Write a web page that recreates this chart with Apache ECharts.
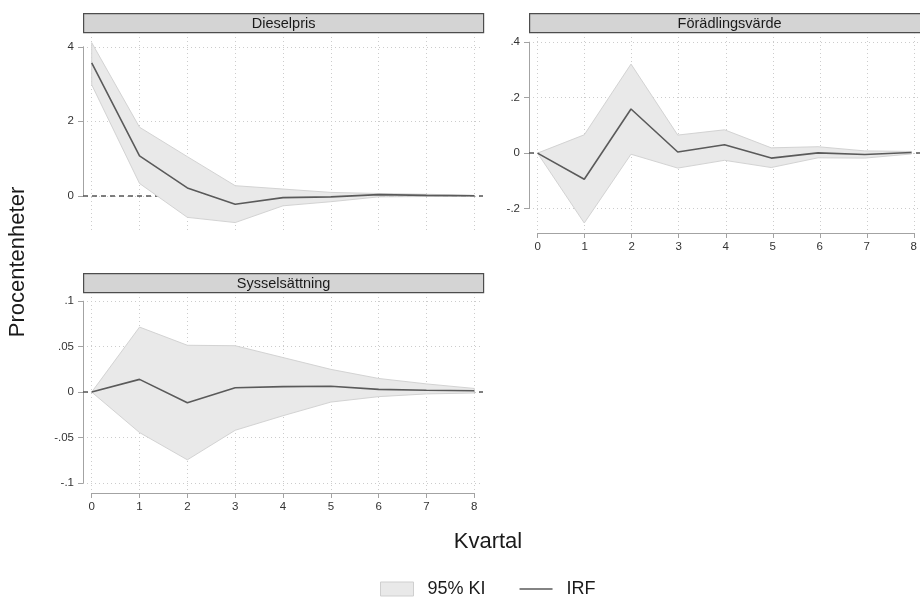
<!DOCTYPE html>
<html>
<head>
<meta charset="utf-8">
<script src="https://cdn.jsdelivr.net/npm/echarts@6/dist/echarts.min.js"></script>
<style>
  html, body { margin: 0; padding: 0; background: #ffffff; }
  #chart { width: 920px; height: 598px; }
</style>
</head>
<body>
<div id="chart"></div>
<script>
// ---------- Data ----------
const quarters = [0, 1, 2, 3, 4, 5, 6, 7, 8];

const dieselIRF   = [3.57, 1.07, 0.21, -0.23, -0.05, -0.03, 0.03, 0.01, 0.00];
const dieselUpper = [4.11, 1.84, 1.05, 0.27, 0.18, 0.09, 0.06, 0.04, 0.01];
const dieselLower = [2.98, 0.33, -0.58, -0.72, -0.27, -0.16, -0.03, -0.02, -0.01];

const foradlIRF   = [0, -0.094, 0.159, 0.004, 0.030, -0.018, 0.001, -0.005, 0.002];
const foradlUpper = [0, 0.066, 0.321, 0.065, 0.084, 0.019, 0.023, 0.008, 0.006];
const foradlLower = [0, -0.252, -0.004, -0.054, -0.026, -0.052, -0.017, -0.018, -0.003];

const syssIRF   = [0, 0.014, -0.0117, 0.0047, 0.006, 0.0065, 0.003, 0.002, 0.0015];
const syssUpper = [0, 0.0715, 0.0515, 0.051, 0.038, 0.025, 0.015, 0.009, 0.004];
const syssLower = [0, -0.0445, -0.0745, -0.042, -0.026, -0.011, -0.005, -0.002, -0.001];

const panelTitles = ['Dieselpris', 'Förädlingsvärde', 'Sysselsättning'];

const xTicks = [0, 1, 2, 3, 4, 5, 6, 7, 8];
const xTickLabels = ['0', '1', '2', '3', '4', '5', '6', '7', '8'];

const dieselTicks = [0, 2, 4];
const dieselTickLabels = ['0', '2', '4'];
const foradlTicks = [-0.2, 0, 0.2, 0.4];
const foradlTickLabels = ['-.2', '0', '.2', '.4'];
const syssTicks = [-0.1, -0.05, 0, 0.05, 0.1];
const syssTickLabels = ['-.1', '-.05', '0', '.05', '.1'];

const legendNames = ['95% KI', 'IRF'];
const xTitle = 'Kvartal';
const yTitle = 'Procentenheter';

// ---------- Layout / style ----------
const FONT = '"Liberation Sans", Arial, Helvetica, sans-serif';
const PW = 400, PH = 200;           // plot region size
const XMIN = -0.182, XMAX = 8.182;  // plot region x range

const panels = [
  { title: panelTitles[0], irf: dieselIRF, up: dieselUpper, lo: dieselLower,
    ticks: dieselTicks, labels: dieselTickLabels,
    left: 83, top: 33, ymin: -1.0, ymax: 4.37, interval: 2, showX: false },
  { title: panelTitles[1], irf: foradlIRF, up: foradlUpper, lo: foradlLower,
    ticks: foradlTicks, labels: foradlTickLabels,
    left: 529, top: 33, ymin: -0.288, ymax: 0.433, interval: 0.2, showX: true },
  { title: panelTitles[2], irf: syssIRF, up: syssUpper, lo: syssLower,
    ticks: syssTicks, labels: syssTickLabels,
    left: 83, top: 293, ymin: -0.111, ymax: 0.109, interval: 0.05, showX: true }
];

const grids = [], xAxes = [], yAxes = [], series = [], graphics = [];

const axisGray = '#a3a3a3';
const labelColor = '#333333';
const gridLine = { show: true, lineStyle: { color: '#cccccc', type: [1, 3], width: 1 } };

function labelFor(ticks, labels) {
  return function (v) {
    for (let i = 0; i < ticks.length; i++) {
      if (Math.abs(ticks[i] - v) < 1e-9) return labels[i];
    }
    return '';
  };
}

panels.forEach(function (p) {
  const yPix = function (v) { return p.top + (p.ymax - v) / (p.ymax - p.ymin) * PH; };
  const xPix = function (v) { return p.left + (v - XMIN) / (XMAX - XMIN) * PW; };
  const tMin = p.ticks[0], tMax = p.ticks[p.ticks.length - 1];
  const x0 = xTicks[0], x1 = xTicks[xTicks.length - 1];

  // Data grid
  const gData = grids.length;
  grids.push({ left: p.left, top: p.top, width: PW, height: PH, containLabel: false });
  xAxes.push({ gridIndex: gData, type: 'value', min: XMIN, max: XMAX, show: false });
  yAxes.push({ gridIndex: gData, type: 'value', min: p.ymin, max: p.ymax, show: false });
  const xi = xAxes.length - 1, yi = yAxes.length - 1;

  // Y tick grid (axis line only spans tick range)
  const gY = grids.length;
  grids.push({ left: p.left, top: yPix(tMax), width: PW, height: yPix(tMin) - yPix(tMax), containLabel: false });
  xAxes.push({ gridIndex: gY, type: 'value', min: 0, max: 1, show: false });
  yAxes.push({
    gridIndex: gY, type: 'value', min: tMin, max: tMax, interval: p.interval,
    axisLine: { show: true, lineStyle: { color: axisGray, width: 1 } },
    axisTick: { show: true, length: 5, lineStyle: { color: axisGray } },
    axisLabel: { show: true, margin: 9, fontSize: 11.5, color: labelColor, fontFamily: FONT,
                 formatter: labelFor(p.ticks, p.labels) },
    splitLine: gridLine
  });

  // X tick grid
  const gX = grids.length;
  grids.push({ left: xPix(x0), top: p.top, width: xPix(x1) - xPix(x0), height: PH, containLabel: false });
  xAxes.push({
    gridIndex: gX, type: 'value', min: x0, max: x1, interval: 1, position: 'bottom',
    axisLine: { show: p.showX, onZero: false, lineStyle: { color: axisGray, width: 1 } },
    axisTick: { show: p.showX, length: 5, lineStyle: { color: axisGray } },
    axisLabel: { show: p.showX, margin: 8, fontSize: 11.5, color: labelColor, fontFamily: FONT,
                 formatter: labelFor(xTicks, xTickLabels) },
    splitLine: gridLine
  });
  yAxes.push({ gridIndex: gX, type: 'value', min: 0, max: 1, show: false });

  // zero reference line (beneath the band)
  series.push({
    type: 'line', xAxisIndex: xi, yAxisIndex: yi, data: [], z: 1, silent: true,
    markLine: {
      z: 1, silent: true, symbol: 'none', label: { show: false },
      lineStyle: { color: '#555555', type: [5, 4], width: 1.5 },
      data: [{ yAxis: 0 }]
    }
  });

  // confidence band
  const up = p.up, lo = p.lo;
  series.push({
    type: 'custom', name: legendNames[0], xAxisIndex: xi, yAxisIndex: yi, z: 3,
    itemStyle: { color: '#e9e9e9', borderColor: '#cfcfcf', borderWidth: 1 },
    data: [[quarters[0], up[0]]],
    renderItem: function (params, api) {
      const pts = [];
      for (let i = 0; i < quarters.length; i++) pts.push(api.coord([quarters[i], up[i]]));
      for (let i = quarters.length - 1; i >= 0; i--) pts.push(api.coord([quarters[i], lo[i]]));
      return { type: 'polygon', shape: { points: pts },
               style: { fill: '#e9e9e9', stroke: '#d3d3d3', lineWidth: 1 } };
    }
  });

  // IRF line
  series.push({
    type: 'line', name: legendNames[1], xAxisIndex: xi, yAxisIndex: yi, z: 4,
    data: quarters.map(function (q, i) { return [q, p.irf[i]]; }),
    symbol: 'none', showSymbol: false,
    lineStyle: { color: '#5a5a5a', width: 1.6 },
    itemStyle: { color: '#5a5a5a' }
  });

  // panel header
  graphics.push({
    type: 'group', left: p.left, top: p.top - 20,
    children: [
      { type: 'rect', shape: { x: 0, y: 0, width: PW, height: 19 },
        style: { fill: '#d4d4d4', stroke: '#4d4d4d', lineWidth: 1.2 } },
      { type: 'text', x: PW / 2, y: 10,
        style: { text: p.title, fontSize: 14.5, fontFamily: FONT, fill: '#1a1a1a',
                 align: 'center', verticalAlign: 'middle' } }
    ]
  });
});

graphics.push({
  type: 'text', x: 488, y: 542,
  style: { text: xTitle, fontSize: 22, fontFamily: FONT, fill: '#1a1a1a',
           align: 'center', verticalAlign: 'middle' }
});
graphics.push({
  type: 'text', x: 18, y: 262, rotation: Math.PI / 2,
  style: { text: yTitle, fontSize: 22, fontFamily: FONT, fill: '#1a1a1a',
           align: 'center', verticalAlign: 'middle' }
});

const option = {
  animation: false,
  backgroundColor: '#ffffff',
  textStyle: { fontFamily: FONT },
  grid: grids,
  xAxis: xAxes,
  yAxis: yAxes,
  series: series,
  graphic: graphics,
  legend: {
    left: 380, top: 580, padding: 0,
    itemWidth: 33, itemHeight: 14, itemGap: 34,
    textStyle: { fontSize: 18, color: '#1a1a1a', fontFamily: FONT, padding: [0, 0, 0, 9] },
    data: [
      { name: legendNames[0], icon: 'rect',
        itemStyle: { color: '#e9e9e9', borderColor: '#cfcfcf', borderWidth: 1 } },
      { name: legendNames[1],
        icon: 'path://M0,0 L0,0 M0,6.2 L33,6.2 L33,7.8 L0,7.8 Z M33,14 L33,14',
        itemStyle: { color: '#5a5a5a', borderWidth: 0 } }
    ],
    selectedMode: false
  }
};

const chart = echarts.init(document.getElementById('chart'), null, { renderer: 'canvas' });
chart.setOption(option);
</script>
</body>
</html>
